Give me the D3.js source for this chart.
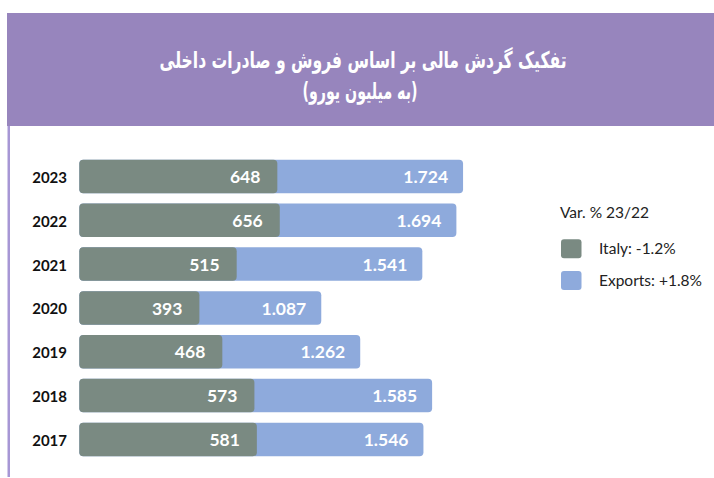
<!DOCTYPE html>
<html>
<head>
<meta charset="utf-8">
<script src="https://cdn.jsdelivr.net/npm/d3@7"></script>
<style>
  html, body { margin: 0; padding: 0; background: #ffffff; }
  svg { display: block; }
</style>
</head>
<body>
<svg id="chart" width="714" height="478"></svg>
<script>
// ---- data ----
const titleLines = ["تفکیک گردش مالی بر اساس فروش و صادرات داخلی", "(به میلیون یورو)"];
const years = ["2023", "2022", "2021", "2020", "2019", "2018", "2017"];
const italy = [648, 656, 515, 393, 468, 573, 581];
const exportsVals = [1724, 1694, 1541, 1087, 1262, 1585, 1546];
const legendTitle = "Var. % 23/22";
const legendLabels = ["Italy: -1.2%", "Exports: +1.8%"];

// ---- styles ----
const colBand = "#9785bd";
const colLine = "#a797d5";
const colItaly = "#7a8a82";
const colExports = "#8eaadc";

const svg = d3.select("#chart");
const W = 714, H = 478;

// header band
svg.append("rect").attr("x", 7).attr("y", 13).attr("width", W - 7).attr("height", 113).attr("fill", colBand);
// left vertical rule
svg.append("rect").attr("x", 7.5).attr("y", 126).attr("width", 2.5).attr("height", 351).attr("fill", colLine);

// title
const tfont = "'DejaVu Sans Condensed', 'DejaVu Sans', sans-serif";
const titleSpecs = [
  { x: 363, y: 68, len: 407 },
  { x: 360, y: 99, len: 115 }
];
titleLines.forEach((t, i) => {
  svg.append("text").attr("x", titleSpecs[i].x).attr("y", titleSpecs[i].y)
    .attr("text-anchor", "middle").attr("fill", "#fff")
    .attr("font-family", tfont).attr("font-weight", "bold").attr("font-size", 23)
    .attr("direction", "rtl").style("unicode-bidi", "plaintext")
    .attr("textLength", titleSpecs[i].len).attr("lengthAdjust", "spacingAndGlyphs")
    .text(t);
});

// ---- scales ----
const x0 = 79.3;
const xI = d3.scaleLinear().domain([0, 1000]).range([x0, x0 + 305.6]);
const xE = d3.scaleLinear().domain([0, 2000]).range([x0, x0 + 445.2]);
const y = d3.scaleBand().domain(years).range([154.5, 461.3]).paddingInner(0.236).paddingOuter(0.118);

const loc = d3.formatLocale({ decimal: ",", thousands: ".", grouping: [3], currency: ["", "€"] });
const fmt = loc.format(",");

const rows = years.map((yr, i) => ({ yr, it: italy[i], ex: exportsVals[i] }));
const g = svg.append("g");
const bw = y.bandwidth();

g.selectAll("rect.ex").data(rows).join("rect").attr("class", "ex")
  .attr("x", x0).attr("y", d => y(d.yr)).attr("width", d => xE(d.ex) - x0).attr("height", bw)
  .attr("rx", 4).attr("fill", colExports);
g.selectAll("rect.it").data(rows).join("rect").attr("class", "it")
  .attr("x", x0).attr("y", d => y(d.yr)).attr("width", d => xI(d.it) - x0).attr("height", bw)
  .attr("rx", 4).attr("fill", colItaly);

const vfont = "Lato, 'Open Sans', sans-serif";
g.selectAll("text.lit").data(rows).join("text").attr("class", "lit")
  .attr("x", d => xI(d.it) - 17).attr("y", d => y(d.yr) + bw / 2 + 6.6)
  .attr("text-anchor", "end").attr("fill", "#fff").attr("font-family", vfont)
  .attr("font-weight", "bold").attr("font-size", 17.5).text(d => fmt(d.it));
g.selectAll("text.lex").data(rows).join("text").attr("class", "lex")
  .attr("x", d => xE(d.ex) - 15).attr("y", d => y(d.yr) + bw / 2 + 6.6)
  .attr("text-anchor", "end").attr("fill", "#fff").attr("font-family", vfont)
  .attr("font-weight", "bold").attr("font-size", 17.5).text(d => fmt(d.ex));

// year axis labels
g.selectAll("text.yr").data(rows).join("text").attr("class", "yr")
  .attr("x", 67).attr("y", d => y(d.yr) + bw / 2 + 6.5)
  .attr("text-anchor", "end").attr("fill", "#111").attr("font-family", vfont)
  .attr("font-weight", "bold").attr("font-size", 15).text(d => d.yr);

// legend
const lg = svg.append("g");
lg.append("text").attr("x", 560).attr("y", 218).attr("fill", "#222")
  .attr("font-family", vfont).attr("font-size", 15.5).text(legendTitle);
const legColors = [colItaly, colExports];
const legY = [239.3, 271];
legendLabels.forEach((lab, i) => {
  lg.append("rect").attr("x", 561).attr("y", legY[i]).attr("width", 20.5).attr("height", 19)
    .attr("rx", 3).attr("fill", legColors[i]);
  lg.append("text").attr("x", 599).attr("y", legY[i] + 15).attr("fill", "#222")
    .attr("font-family", vfont).attr("font-size", 15.5).text(lab);
});
</script>
</body>
</html>
